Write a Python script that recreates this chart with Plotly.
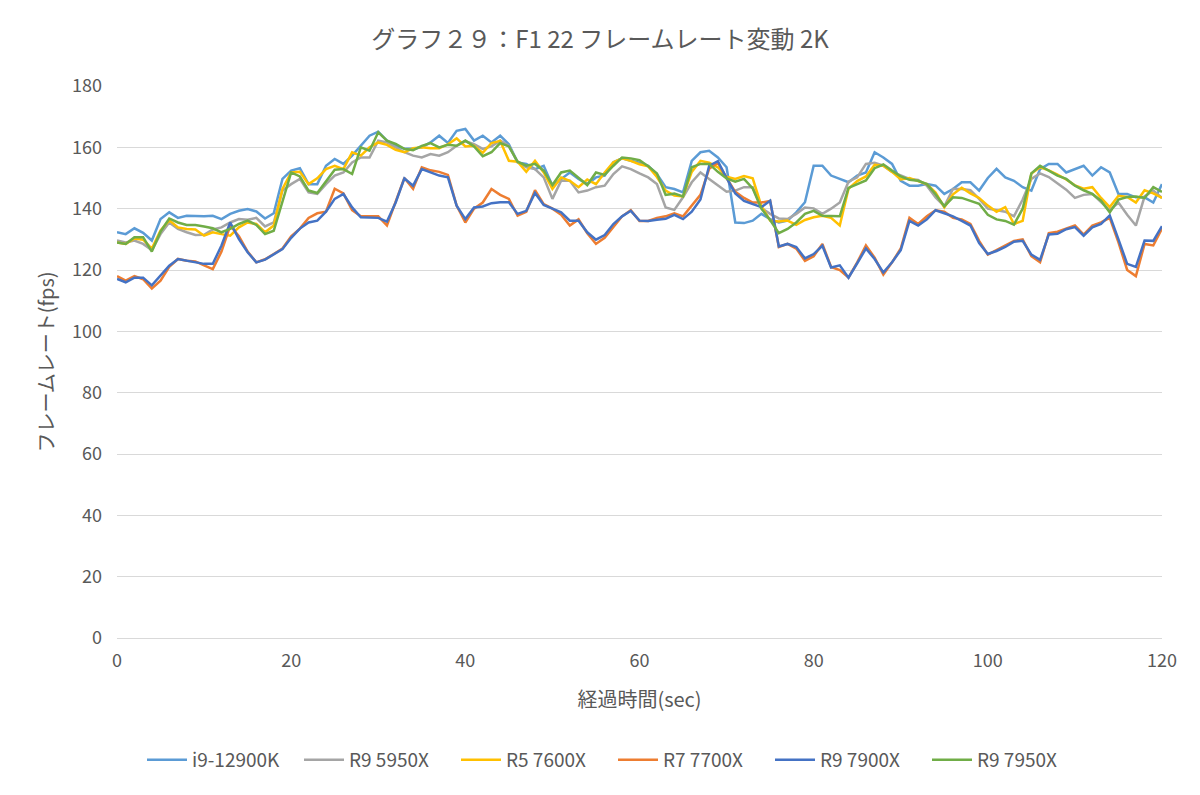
import plotly.graph_objects as go

seconds = list(range(0, 121))

series_names = ["i9-12900K", "R9 5950X", "R5 7600X", "R7 7700X", "R9 7900X", "R9 7950X"]
series_colors = ["#5B9BD5", "#A5A5A5", "#FFC000", "#ED7D31", "#4472C4", "#70AD47"]

i9_12900k = [
    132.3, 131.7, 133.6, 132.1, 129.6, 136.6, 138.8, 137, 137.7, 137.5, 137.5, 137.7, 136.6, 138.3, 139.3, 139.9, 139.1, 136.8, 138.5, 149.7, 152.4,
    153.2, 148, 148, 154, 156.2, 154.6, 157.3, 160.5, 163.8, 165.1, 162.2, 160.5, 159.5, 159.5, 160, 161.6, 163.8, 161.4, 165.4, 166,
    162.2, 163.8, 161.6, 163.8, 161, 155.1, 154.6, 152.9, 154, 147.5, 149.7, 151.8, 149.7, 148, 150.2, 150.8, 155.1, 156.4, 155.6, 155,
    154, 151.3, 147, 146.4, 145.3, 155.6, 158.4, 158.9, 156.7, 153.5, 135.5, 135.3, 136.1, 138.3, 136.6, 135.5, 136.1, 138.8, 142.1, 154,
    154, 150.8, 149.7, 148.6, 150.8, 151.8, 158.4, 156.7, 154.6, 149.1, 147.5, 147.5, 148, 147.5, 144.8, 146.4, 148.6, 148.6, 145.9, 150,
    153, 150.2, 149.1, 147, 145.9, 152.9, 154.6, 154.6, 151.8, 152.9, 154, 150.8, 153.5, 151.8, 144.8, 144.8, 143.7, 143.7, 142, 148,
]

r9_5950x = [
    129.6, 129, 129.6, 128.5, 126.5, 131.7, 135.5, 133.4, 132.3, 131.4, 131.5, 133.2, 133.9, 135.5, 136.6, 136.4, 137, 134.2, 135.5, 145.9, 148,
    149.7, 145.3, 144.8, 148, 150.8, 151.8, 155.1, 156.7, 156.7, 162.2, 161.6, 160, 158.4, 157.3, 156.7, 157.8, 157.3, 158.4, 160.5, 162,
    161, 159.5, 160.3, 162.2, 160.5, 155.3, 153.5, 152.9, 150.2, 143.2, 149.1, 149.1, 145.3, 145.9, 147, 147.5, 151.3, 153.8, 152.9, 151.5,
    150.2, 148, 140.4, 139.6, 143.7, 148.6, 151.8, 149.7, 147.7, 145.5, 145.9, 147, 147, 140.2, 138.3, 136.8, 136.6, 138.3, 140.4, 140.1,
    138.3, 140, 142, 148.8, 150.2, 154.6, 155, 154, 152, 150.8, 149.7, 149.4, 147.5, 143.7, 140.8, 146.4, 146.4, 146, 143.2, 140,
    139.5, 139, 137.5, 143, 149.7, 151.5, 150.3, 148.3, 146.2, 143.5, 144.5, 144.8, 142, 139.5, 142, 138, 134.5, 144, 145.9, 143.5,
]

r5_7600x = [
    129, 128.5, 130.3, 129.9, 127, 132.9, 136.2, 133.9, 133.4, 133.2, 131.2, 132.3, 131.7, 131.2, 133.9, 135.5, 135, 132.3, 134.5, 146.4, 151.8,
    152, 148, 149.9, 152.9, 154, 152.9, 158.4, 157.3, 160, 161.6, 160.8, 159.2, 158.4, 159.7, 160, 159.7, 159.7, 161, 162.9, 160.3,
    160.5, 158.2, 161.4, 162.1, 155.6, 155.3, 152, 155.6, 151.8, 146.4, 150.2, 149.1, 147, 149.5, 148, 151.8, 155.1, 156.4, 155.6, 154.5,
    153.8, 150.3, 145.9, 144.3, 144, 152, 155.6, 155, 153.5, 150.4, 149.7, 150.6, 149.9, 140.8, 136.1, 135.8, 136.1, 134.7, 136.3, 137.2,
    137.7, 137, 134.5, 146.5, 149, 150.5, 154.3, 154, 152, 149.5, 150, 149, 148, 145.3, 140.4, 144.7, 146.8, 145, 143.5, 141,
    139, 140.5, 135, 136, 151.5, 153.5, 152.5, 151.1, 149.5, 147.6, 146.5, 147, 143.5, 140.5, 144.2, 143.8, 142, 146, 145, 143.5,
]

r7_7700x = [
    118, 116.5, 118, 117, 114, 116.5, 121, 123.6, 123, 122.8, 121.5, 120.3, 126, 134.5, 131, 126, 122.5, 123.5, 125.2, 127, 131,
    133.5, 137, 138.5, 139, 146.5, 145, 139.5, 137.5, 137.5, 137.5, 134.5, 142, 150, 146.5, 153.5, 152.5, 152, 151, 141, 135.5,
    140, 142, 146.4, 144.5, 143.2, 137.7, 139, 146, 141.5, 140, 138, 134.5, 136.5, 132, 128.5, 130.5, 134, 137.5, 139.5, 136,
    136, 137, 137.5, 138.5, 137.5, 141, 144.5, 153, 155, 150, 145.5, 143.5, 142, 142, 142.5, 127.5, 128.5, 127, 123, 124.5,
    128.5, 121, 120, 117.5, 122.5, 128, 124, 118.5, 122.5, 127, 137, 135, 137.5, 139.5, 139, 137, 136.5, 135, 129.5, 125,
    126.5, 128, 129.5, 130, 124.5, 122.5, 132, 132.5, 133.5, 134.5, 131.5, 134.5, 135.5, 137, 129, 120, 118, 128.5, 128, 133.5,
]

r9_7900x = [
    117.1, 116, 117.5, 117.5, 115, 118.3, 121.4, 123.6, 123, 122.5, 122, 122, 128, 135.5, 130.1, 125.8, 122.5, 123.4, 125.2, 126.8, 130.5,
    133.5, 135.5, 136.1, 139, 143.2, 144.8, 140.4, 137.2, 137.2, 137, 135.8, 142, 149.9, 147.5, 152.9, 151.8, 150.8, 150.2, 141, 136.6,
    140.4, 140.7, 141.8, 142.1, 142.1, 138.3, 139.3, 145.1, 141.2, 140, 138.8, 136.1, 136.1, 132.3, 129.9, 131.4, 135, 137.5, 139.3, 136.1,
    136, 136.4, 136.7, 138, 136.6, 139, 143, 154, 155.5, 150, 145, 142.5, 141.5, 140.5, 142.6, 127.7, 128.5, 127.5, 123.8, 125.2,
    127.9, 120.8, 121.5, 117.5, 122.2, 127, 123.6, 119.2, 122.5, 126.5, 136, 134.5, 136.5, 139.5, 138.5, 137.5, 136, 134.5, 128.8, 125.2,
    126.2, 127.5, 129.2, 129.5, 125, 123.3, 131.6, 131.8, 133.3, 134, 131.2, 133.9, 135, 137.8, 130, 122, 121, 129.6, 129.5, 134.3,
]

r9_7950x = [
    129, 128.5, 130.7, 130.7, 126, 132.5, 136.8, 135.5, 134.7, 134.7, 134.2, 133.6, 132.3, 133.4, 135, 136.1, 134.7, 131.7, 132.8, 142, 151.8,
    150.5, 145.9, 145.1, 149.1, 152.7, 152.9, 151.3, 160, 158.9, 164.9, 162.2, 161.1, 159.5, 159.1, 160.5, 161.4, 160, 160.8, 160.5, 162.2,
    160.3, 157.1, 158.4, 161.4, 160.3, 155.3, 154, 154.6, 152.4, 147.7, 151.8, 152.4, 149.9, 147.7, 151.8, 151, 154, 156.7, 156.4, 155.8,
    153.8, 151.5, 144.5, 144.9, 144, 153.5, 154.6, 154.6, 152, 149.9, 148.8, 149.7, 146.6, 140, 136.3, 132, 133.4, 135.5, 138.3, 139.3,
    137.7, 137.5, 137.5, 146.8, 148, 149.2, 153.2, 154.4, 152.4, 150.5, 149.4, 149.1, 148, 144.7, 140.8, 143.7, 143.5, 142.6, 141.6, 138,
    136.5, 136, 134.8, 140, 151.5, 154, 152.5, 150.8, 149.7, 147.5, 146, 144.8, 142.6, 138.8, 143, 143.8, 144, 143.5, 147, 145.5,
]

all_series = [i9_12900k, r9_5950x, r5_7600x, r7_7700x, r9_7900x, r9_7950x]

x_ticks = [0, 20, 40, 60, 80, 100, 120]
y_ticks = [0, 20, 40, 60, 80, 100, 120, 140, 160, 180]

FONT = "Noto Sans CJK JP"
TXT = "#595959"
GRID = "#D9D9D9"

# page has an 8px body margin; figure sized to fit the 1200x795 window
W, H = 1184, 779

fig = go.Figure()
for name, color, vals in zip(series_names, series_colors, all_series):
    fig.add_trace(go.Scatter(
        x=seconds, y=vals, mode="lines", name=name,
        line=dict(color=color, width=2.5),
    ))

fig.update_layout(
    width=W, height=H,
    paper_bgcolor="white", plot_bgcolor="white",
    margin=dict(l=109, r=30, t=78, b=149, autoexpand=False),
    font=dict(family=FONT, color=TXT, size=16),
    title=dict(
        text="グラフ２９：F1 22 フレームレート変動 2K",
        x=0.5, xanchor="center", xref="container",
        y=1 - 32 / H, yanchor="middle", yref="container",
        font=dict(family=FONT, size=24, color=TXT),
    ),
    showlegend=True,
    legend=dict(
        orientation="h", x=605 / W, xanchor="center", xref="container",
        y=-0.221, yanchor="middle",
        font=dict(family=FONT, size=19, color=TXT),
        entrywidth=102, entrywidthmode="pixels",
        itemwidth=40,
        bgcolor="rgba(0,0,0,0)",
    ),
)

fig.update_xaxes(
    range=[0, 120], tickmode="array", tickvals=x_ticks,
    showgrid=False, zeroline=False, showline=False, ticks="",
    ticklabelstandoff=10, automargin=False,
    tickfont=dict(family=FONT, size=18, color=TXT),
    title=dict(text="経過時間(sec)", font=dict(family=FONT, size=20, color=TXT), standoff=21),
)
fig.update_yaxes(
    range=[0, 180], tickmode="array", tickvals=y_ticks,
    showgrid=True, gridcolor=GRID, gridwidth=1,
    zeroline=True, zerolinecolor=GRID, zerolinewidth=1,
    showline=False, ticks="",
    ticklabelstandoff=14, automargin=False,
    tickfont=dict(family=FONT, size=18, color=TXT),
    title=dict(text="フレームレート(fps)", font=dict(family=FONT, size=20, color=TXT), standoff=12),
)

fig.write_html("out.html")
